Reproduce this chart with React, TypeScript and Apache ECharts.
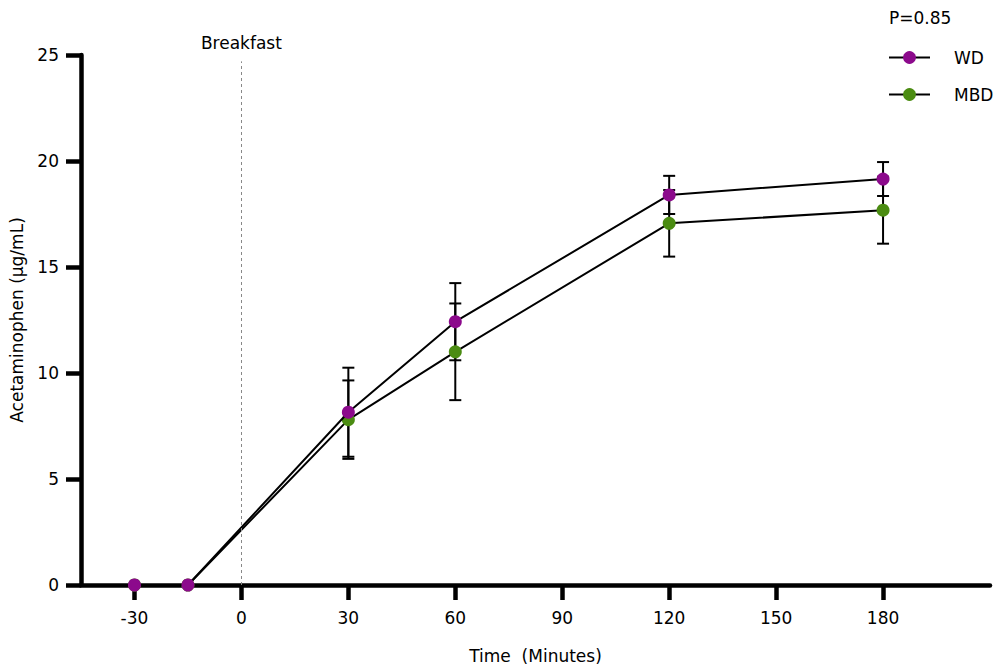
import React, { useEffect, useRef } from "react";
import * as echarts from "echarts";

// Sampling times (minutes relative to breakfast)
const timePoints = [-30, -15, 30, 60, 120, 180];

// Plasma acetaminophen, mean and SD (µg/mL)
const wdMean = [0, 0, 8.15, 12.42, 18.4, 19.15];
const wdSd = [0, 0, 2.1, 1.82, 0.9, 0.8];
const mbdMean = [0, 0, 7.8, 11.0, 17.06, 17.68];
const mbdSd = [0, 0, 1.85, 2.28, 1.57, 1.58];

const xTicks = [-30, 0, 30, 60, 90, 120, 150, 180];
const pValueText = "P=0.85";

const WD_COLOR = "#8c0a8c";
const MBD_COLOR = "#4b8c12";
const FONT = "DejaVu Sans";

const pairs = (ys: number[]) => timePoints.map((t, i) => [t, ys[i]]);
const errRows = (ys: number[], sds: number[]) =>
  timePoints
    .map((t, i) => [t, ys[i], sds[i]])
    .filter((r) => r[2] > 0);

const errorBarRender = (params: any, api: any) => {
  const x = api.value(0);
  const y = api.value(1);
  const e = api.value(2);
  const top = api.coord([x, y + e]);
  const bot = api.coord([x, y - e]);
  const half = 6;
  const style = { stroke: "#000", lineWidth: 2 };
  return {
    type: "group",
    children: [
      { type: "line", shape: { x1: top[0], y1: top[1], x2: bot[0], y2: bot[1] }, style },
      { type: "line", shape: { x1: top[0] - half, y1: top[1], x2: top[0] + half, y2: top[1] }, style },
      { type: "line", shape: { x1: bot[0] - half, y1: bot[1], x2: bot[0] + half, y2: bot[1] }, style },
    ],
  };
};

export default function App() {
  const ref = useRef<HTMLDivElement>(null);

  useEffect(() => {
    if (!ref.current) return;
    const chart = echarts.init(ref.current, undefined, { renderer: "svg" });
    const text = { fontFamily: FONT, fontSize: 17, color: "#000" };

    chart.setOption({
      animation: false,
      backgroundColor: "#fff",
      textStyle: { fontFamily: FONT },
      title: {
        text: pValueText,
        left: 884,
        top: 4,
        textStyle: { ...text, fontWeight: "normal" },
      },
      legend: {
        orient: "vertical",
        left: 883,
        top: 44,
        itemWidth: 41,
        itemHeight: 16,
        itemGap: 20,
        data: ["WD", "MBD"],
        textStyle: { ...text, padding: [0, 0, 0, 19] },
      },
      grid: { left: 81, right: 9, top: 55, bottom: 87, containLabel: false },
      xAxis: {
        type: "value",
        min: -45,
        max: 210,
        name: "Time  (Minutes)",
        nameLocation: "middle",
        nameGap: 62,
        nameTextStyle: text,
        axisLine: { onZero: false, lineStyle: { color: "#000", width: 4.5 } },
        axisTick: {
          customValues: xTicks,
          length: 15,
          lineStyle: { color: "#000", width: 4.5 },
        },
        axisLabel: { customValues: xTicks, margin: 24, ...text },
        splitLine: { show: false },
      },
      yAxis: {
        type: "value",
        min: 0,
        max: 25,
        interval: 5,
        name: "Acetaminophen (µg/mL)",
        nameLocation: "middle",
        nameGap: 56,
        nameTextStyle: text,
        axisLine: { show: true, onZero: false, lineStyle: { color: "#000", width: 4.5 } },
        axisTick: { show: true, length: 15, lineStyle: { color: "#000", width: 4.5 } },
        axisLabel: { margin: 22, ...text },
        splitLine: { show: false },
      },
      series: [
        {
          name: "MBD err",
          type: "custom",
          renderItem: errorBarRender,
          data: errRows(mbdMean, mbdSd),
          encode: { x: 0, y: 1 },
          z: 1,
          silent: true,
        },
        {
          name: "WD err",
          type: "custom",
          renderItem: errorBarRender,
          data: errRows(wdMean, wdSd),
          encode: { x: 0, y: 1 },
          z: 1,
          silent: true,
        },
        {
          name: "Breakfast",
          type: "line",
          data: [],
          markLine: {
            silent: true,
            symbol: "none",
            lineStyle: { color: "#888", type: [3, 3], width: 1 },
            label: {
              show: true,
              position: "end",
              formatter: "Breakfast",
              distance: 10,
              ...text,
            },
            data: [[{ coord: [0, 0] }, { coord: [0, 24.7] }]],
          },
        },
        {
          name: "MBD",
          type: "line",
          data: pairs(mbdMean),
          symbol: "circle",
          symbolSize: 13,
          z: 3,
          itemStyle: { color: MBD_COLOR },
          lineStyle: { color: "#000", width: 2 },
        },
        {
          name: "WD",
          type: "line",
          data: pairs(wdMean),
          symbol: "circle",
          symbolSize: 13,
          z: 4,
          itemStyle: { color: WD_COLOR },
          lineStyle: { color: "#000", width: 2 },
        },
      ],
    });

    return () => chart.dispose();
  }, []);

  return <div ref={ref} style={{ width: 999, height: 672, position: "absolute", left: 0, top: 0 }} />;
}
